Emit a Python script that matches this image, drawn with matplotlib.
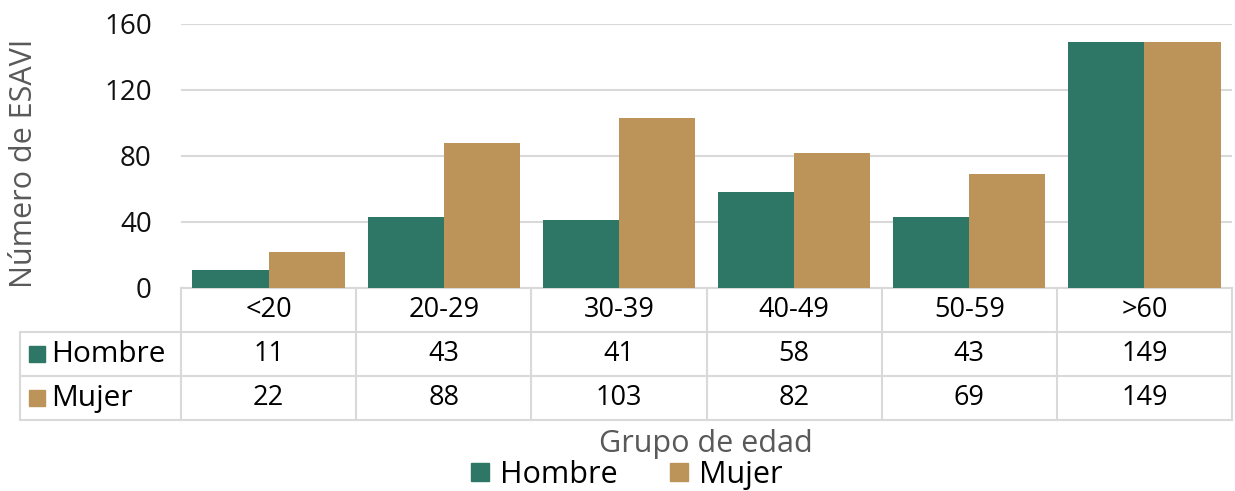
#Program to display a grouped bar chart of ESAVI by age group with a data table.
import matplotlib
matplotlib.use("Agg")
import matplotlib.pyplot as plt
from matplotlib.lines import Line2D

#Data for the chart.
grupos = ["<20", "20-29", "30-39", "40-49", "50-59", ">60"]
hombre = [11, 43, 41, 58, 43, 149]
mujer = [22, 88, 103, 82, 69, 149]
series = ["Hombre", "Mujer"]
colores = ["#2e7665", "#bc945a"]
yticks = [0, 40, 80, 120, 160]


def main():
    """Mainline logic for creating the chart."""
    plt.rcParams['font.family'] = ['Open Sans', 'DejaVu Sans']
    fig = plt.figure(figsize=(12.35, 4.91), dpi=100)
    ax = fig.add_axes([181 / 1235, 1 - 288 / 491, 1051 / 1235, 264 / 491])

    #Bars.
    n = len(grupos)
    x = list(range(n))
    ancho = 0.435
    ax.bar([i - ancho / 2 for i in x], hombre, width=ancho, color=colores[0], zorder=3)
    ax.bar([i + ancho / 2 for i in x], mujer, width=ancho, color=colores[1], zorder=3)

    ax.set_xlim(-0.5, n - 0.5)
    ax.set_ylim(0, 160)
    ax.set_yticks(yticks)
    ax.set_yticklabels([str(t) for t in yticks], fontsize=20, color="#111111")
    ax.tick_params(axis='y', length=0, pad=21)
    ax.set_xticks([])
    for s in ax.spines.values():
        s.set_visible(False)
    ax.grid(axis='y', color="#d9d9d9", linewidth=1.5, zorder=0)

    #Data table below the plot.
    tr = ax.get_xaxis_transform()
    gris = "#d9d9d9"
    fila = 0.1667
    izq = -0.5 - 161 / 175.17
    for k in range(n + 1):
        ax.plot([k - 0.5, k - 0.5], [0, -3 * fila], transform=tr, color=gris,
                lw=1.5, clip_on=False)
    ax.plot([-0.5, n - 0.5], [0, 0], transform=tr, color=gris, lw=1.5, clip_on=False)
    for r in (1, 2, 3):
        ax.plot([izq, n - 0.5], [-r * fila, -r * fila], transform=tr, color=gris,
                lw=1.5, clip_on=False)
    ax.plot([izq, izq], [-fila, -3 * fila], transform=tr, color=gris, lw=1.5, clip_on=False)

    for i, g in enumerate(grupos):
        ax.text(i, -0.5 * fila, g, transform=tr, ha='center', va='center', fontsize=19.5)
        ax.text(i, -1.5 * fila, str(hombre[i]), transform=tr, ha='center', va='center',
                fontsize=19.5)
        ax.text(i, -2.5 * fila, str(mujer[i]), transform=tr, ha='center', va='center',
                fontsize=19.5)

    for r, (nombre, c) in enumerate(zip(series, colores)):
        yc = -(r + 1.5) * fila
        ax.plot([izq + 0.095], [yc], transform=tr, marker='s', markersize=12,
                color=c, clip_on=False, linestyle='none')
        ax.text(izq + 0.18, yc, nombre, transform=tr, ha='left', va='center', fontsize=21.5)

    #Axis labels.
    fig.text(24 / 1235, 1 - 163 / 491, "Número de ESAVI", rotation=90, ha='center',
             va='center', fontsize=22, color="#595959")
    fig.text(706 / 1235, 1 - 444 / 491, "Grupo de edad", ha='center', va='center',
             fontsize=22, color="#595959")

    #Legend.
    handles = [Line2D([], [], marker='s', markersize=13, color=c, linestyle='none')
               for c in colores]
    fig.legend(handles, series, loc='center', bbox_to_anchor=(625 / 1235, 1 - 475 / 491),
               ncol=2, frameon=False, fontsize=22, handlelength=0.8, handletextpad=0.25,
               columnspacing=1.6, borderaxespad=0)

    fig.savefig("out.png", dpi=100)


if __name__ == '__main__':
    main()
